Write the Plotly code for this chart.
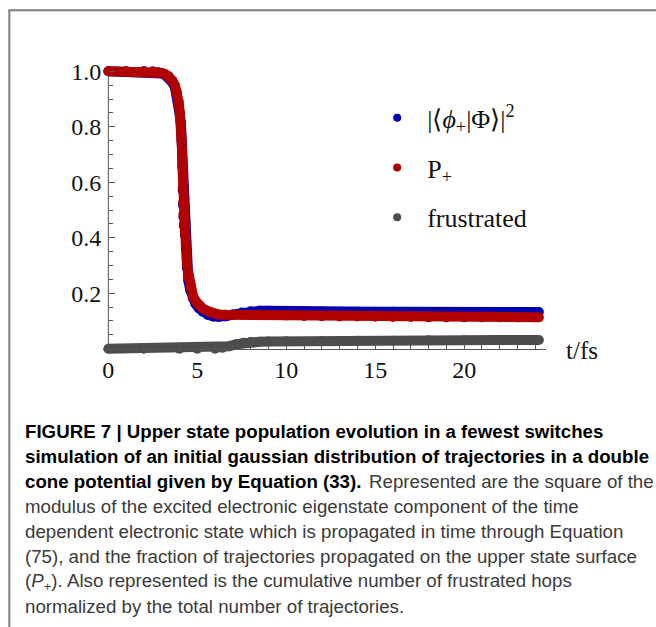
import plotly.graph_objects as go

# ---------------- data ----------------
t = [0, 1, 2, 2.5, 2.8, 3.0, 3.2, 3.4, 3.6, 3.75, 3.85, 3.95, 4.02, 4.08, 4.10,
     4.12, 4.14, 4.16, 4.18, 4.20, 4.22, 4.25, 4.30, 4.36, 4.42, 4.5, 4.6, 4.75,
     4.9, 5.1, 5.3, 5.6, 5.9, 6.2, 6.6, 7.0, 7.5, 8.0, 8.5, 9, 10, 11, 12, 13,
     14, 15, 16, 17, 18, 19, 20, 21, 22, 23, 24.2]

p_plus = [1.0, 1.0, 1.0, 0.999, 0.997, 0.994, 0.989, 0.982, 0.966, 0.948, 0.925,
          0.89, 0.85, 0.817, 0.787, 0.757, 0.719, 0.664, 0.581, 0.527, 0.485,
          0.451, 0.421, 0.367, 0.30, 0.255, 0.222, 0.192, 0.172, 0.156, 0.145,
          0.135, 0.127, 0.123, 0.122, 0.122, 0.122, 0.122, 0.122, 0.121, 0.120,
          0.118, 0.117, 0.116, 0.116, 0.115, 0.114, 0.114, 0.113, 0.113, 0.113,
          0.113, 0.113, 0.113, 0.113]

overlap = [1.0, 1.0, 1.0, 0.999, 0.996, 0.992, 0.986, 0.978, 0.960, 0.940, 0.915,
           0.88, 0.84, 0.807, 0.777, 0.747, 0.709, 0.654, 0.571, 0.517, 0.475,
           0.441, 0.411, 0.357, 0.29, 0.245, 0.212, 0.182, 0.162, 0.145, 0.133,
           0.122, 0.116, 0.114, 0.117, 0.123, 0.130, 0.135, 0.137, 0.137, 0.135,
           0.134, 0.134, 0.133, 0.133, 0.133, 0.133, 0.132, 0.132, 0.132, 0.132,
           0.132, 0.132, 0.132, 0.132]

t_frus = [0, 2, 4, 5, 6.0, 6.4, 6.8, 7.2, 7.6, 8.0, 8.5, 9, 10, 12, 14, 16, 18,
          20, 22, 24.2]
frustrated = [0, 0, 0, 0, 0.0, 0.003, 0.009, 0.016, 0.021, 0.024, 0.025, 0.026,
              0.027, 0.028, 0.029, 0.029, 0.030, 0.030, 0.031, 0.031]

x_ticks = [0, 5, 10, 15, 20]
y_ticks = [0.2, 0.4, 0.6, 0.8, 1.0]
y_ticktext = ["0.2", "0.4", "0.6", "0.8", "1.0"]

names = ["|⟨<i>ϕ</i><sub>+</sub>|Φ⟩|<sup>2</sup>", "P<sub>+</sub>", "frustrated"]
colors = ["#0000b0", "#b00000", "#4d4d4d"]

# caption: (text, bold?, left pixel, line index)
caption = [
    ("FIGURE 7 | Upper state population evolution in a fewest switches", True, 23, 0),
    ("simulation of an initial gaussian distribution of trajectories in a double", True, 23, 1),
    ("cone potential given by Equation (33).", True, 23, 2),
    ("Represented are the square of the", False, 367, 2),
    ("modulus of the excited electronic eigenstate component of the time", False, 23, 3),
    ("dependent electronic state which is propagated in time through Equation", False, 23, 4),
    ("(75), and the fraction of trajectories propagated on the upper state surface", False, 23, 5),
    ("(<i>P</i><sub>+</sub>). Also represented is the cumulative number of frustrated hops", False, 23, 6),
    ("normalized by the total number of trajectories.", False, 23, 7),
]

# ---------------- layout geometry ----------------
W, H = 656, 627
XR = [-0.3, 24.6]
YR = [-0.03, 1.03]
ML, MR, MT, MB = 102.7, 110.1, 62.7, 270.2
PW = W - ML - MR
PH = H - MT - MB


def px(xpix):
    return (xpix - ML) / PW


def py(ypix):
    return (H - MB - ypix) / PH


SERIF = "Liberation Serif"
SANS = "Liberation Sans"

fig = go.Figure()

series = [(t, overlap), (t, p_plus), (t_frus, frustrated)]
for (xs, ys), c in zip(series, colors):
    fig.add_trace(go.Scatter(
        x=xs, y=ys, mode="lines+markers",
        line=dict(color=c, width=10),
        marker=dict(color=c, size=10),
        cliponaxis=False, showlegend=False, hoverinfo="skip"))

for i, (n, c) in enumerate(zip(names, colors)):
    fig.add_trace(go.Scatter(
        x=[None], y=[None], mode="markers", name=n,
        marker=dict(color=c, size=8), legendgroup=f"g{i}"))

# y axis line from 0 to 1 only
fig.add_shape(type="line", xref="x", yref="y", x0=0, x1=0, y0=0, y1=1,
              line=dict(color="#555555", width=1), layer="below")

# frame around the figure
fig.add_shape(type="line", xref="paper", yref="paper",
              x0=px(9), x1=px(9), y0=py(H + 5), y1=py(10),
              line=dict(color="#808080", width=2))
fig.add_shape(type="line", xref="paper", yref="paper",
              x0=px(8), x1=px(W + 5), y0=py(10), y1=py(10),
              line=dict(color="#808080", width=2))

fig.add_annotation(text="t/fs", xref="paper", yref="paper", x=px(564), y=py(350),
                   xanchor="left", yanchor="middle", showarrow=False,
                   font=dict(family=SERIF, size=25, color="#111111"))

for text, bold, left, row in caption:
    fig.add_annotation(text=f"<b>{text}</b>" if bold else text,
                       xref="paper", yref="paper",
                       x=px(left), y=py(431 + 25.1 * row),
                       xanchor="left", yanchor="middle", showarrow=False,
                       font=dict(family=SANS, size=18.7,
                                 color="#000000" if bold else "#3a3a3a"))

fig.update_layout(
    width=W, height=H,
    margin=dict(l=ML, r=MR, t=MT, b=MB, pad=0),
    paper_bgcolor="white", plot_bgcolor="white",
    xaxis=dict(range=XR, anchor="free", position=(0 - YR[0]) / (YR[1] - YR[0]),
               showline=True, linecolor="#555555", linewidth=1,
               showgrid=False, zeroline=False,
               tickvals=x_ticks, ticks="inside", ticklen=6, tickcolor="#555555",
               ticklabelstandoff=0,
               minor=dict(dtick=1, ticks="inside", ticklen=4, tickcolor="#555555"),
               tickfont=dict(family=SERIF, size=24, color="#111111")),
    yaxis=dict(range=YR, anchor="free", position=(0 - XR[0]) / (XR[1] - XR[0]),
               showline=False, showgrid=False, zeroline=False,
               tickvals=y_ticks, ticktext=y_ticktext,
               ticks="inside", ticklen=6, tickcolor="#555555",
               ticklabelstandoff=7,
               minor=dict(tickvals=[round(0.05 * k, 2) for k in range(1, 20)],
                          ticks="inside", ticklen=4, tickcolor="#555555"),
               tickfont=dict(family=SERIF, size=24, color="#111111")),
    legend=dict(x=px(367), y=py(94), xanchor="left", yanchor="top",
                bgcolor="rgba(0,0,0,0)", itemwidth=50, tracegroupgap=13,
                font=dict(family=SERIF, size=26, color="#111111")),
)

fig.write_html("out.html")
